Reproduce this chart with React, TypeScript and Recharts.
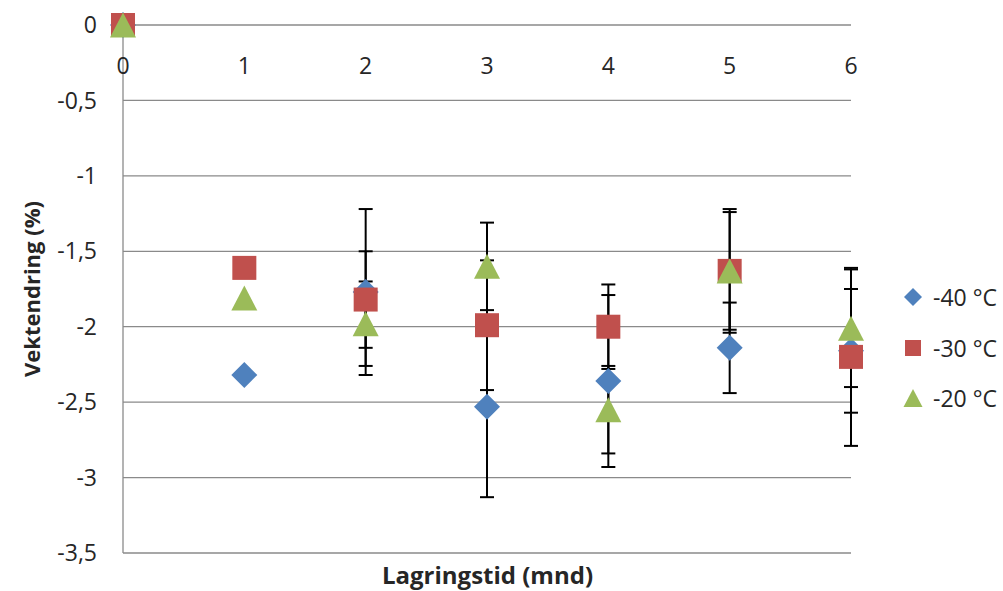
import React from "react";
import {
  CartesianGrid,
  ErrorBar,
  Scatter,
  ScatterChart,
  XAxis,
  YAxis,
} from "recharts";

const months = [0, 1, 2, 3, 4, 5, 6];
const minus40 = [0, -2.32, -1.77, -2.53, -2.36, -2.14, -2.16];
const minus40Err = [0, 0, 0.55, 0.6, 0.57, 0.3, 0.41];
const minus30 = [0, -1.61, -1.82, -1.99, -2.0, -1.63, -2.2];
const minus30Err = [0, 0, 0.32, 0.43, 0.28, 0.39, 0.59];
const minus20 = [0, -1.81, -1.98, -1.6, -2.55, -1.63, -2.01];
const minus20Err = [0, 0, 0.28, 0.29, 0.29, 0.41, 0.39];
const yTicks = [0, -0.5, -1, -1.5, -2, -2.5, -3, -3.5];

const seriesNames = ["-40 °C", "-30 °C", "-20 °C"];
const colors = ["#4F81BD", "#C0504D", "#9BBB59"];

const font = "'Open Sans', sans-serif";
const textColor = "#262626";
const gridColor = "#8a8a8a";

const toPoints = (vals: number[], errs: number[]) =>
  months.map((m, i) => ({ x: m, y: vals[i], e: errs[i] }));

const data40 = toPoints(minus40, minus40Err);
const data30 = toPoints(minus30, minus30Err);
const data20 = toPoints(minus20, minus20Err);

// marker shapes like Excel's (rotated square, square, triangle)
const diamond = (r: number, fill: string) => (props: any) => {
  const { cx, cy } = props;
  return (
    <polygon
      points={`${cx},${cy - r} ${cx + r},${cy} ${cx},${cy + r} ${cx - r},${cy}`}
      fill={fill}
    />
  );
};
const square = (r: number, fill: string) => (props: any) => {
  const { cx, cy } = props;
  return <rect x={cx - r} y={cy - r} width={r * 2} height={r * 2} fill={fill} />;
};
const triangle = (r: number, fill: string) => (props: any) => {
  const { cx, cy } = props;
  return (
    <polygon
      points={`${cx},${cy - r} ${cx + r + 0.5},${cy + r} ${cx - r - 0.5},${cy + r}`}
      fill={fill}
    />
  );
};

// x tick labels sit just below the 0 gridline, as in the original
const renderXTick = (props: any) => {
  const { x, y, payload } = props;
  return (
    <text
      key={`xt-${payload.value}`}
      x={x}
      y={y + 49}
      textAnchor="middle"
      fill={textColor}
      fontSize={23}
      fontFamily={font}
    >
      {payload.value}
    </text>
  );
};

const YTitle = (props: any) => {
  const { viewBox } = props;
  const cy = viewBox.y + viewBox.height / 2;
  return (
    <text
      x={40}
      y={cy}
      transform={`rotate(-90, 40, ${cy})`}
      textAnchor="middle"
      fill={textColor}
      fontSize={22}
      fontWeight="bold"
      fontFamily={font}
    >
      Vektendring (%)
    </text>
  );
};

const legendMarkers = [diamond(9, colors[0]), square(8, colors[1]), triangle(9, colors[2])];

export default function App() {
  return (
    <div style={{ position: "absolute", left: 0, top: 0, width: 1003, height: 591 }}>
      <ScatterChart
        width={1003}
        height={591}
        margin={{ top: 24, right: 152, bottom: 38, left: 0 }}
      >
        <CartesianGrid vertical={false} stroke={gridColor} strokeWidth={1.3} />
        <XAxis
          type="number"
          dataKey="x"
          orientation="top"
          domain={[0, 6]}
          ticks={months}
          height={1}
          axisLine={false}
          tickLine={false}
          tickSize={0}
          tickMargin={0}
          tick={renderXTick}
        />
        <YAxis
          type="number"
          dataKey="y"
          domain={[-3.5, 0]}
          ticks={yTicks}
          width={123}
          axisLine={{ stroke: gridColor, strokeWidth: 1.3 }}
          tickLine={false}
          tickSize={0}
          tickMargin={26}
          tickFormatter={(v: number) => String(v).replace(".", ",")}
          tick={{ fill: textColor, fontSize: 23, fontFamily: font }}
          label={<YTitle />}
        />
        <Scatter
          name={seriesNames[0]}
          data={data40}
          fill={colors[0]}
          shape={diamond(13, colors[0])}
          isAnimationActive={false}
        >
          <ErrorBar dataKey="e" direction="y" width={7} stroke="#000" strokeWidth={2} />
        </Scatter>
        <Scatter
          name={seriesNames[1]}
          data={data30}
          fill={colors[1]}
          shape={square(12, colors[1])}
          isAnimationActive={false}
        >
          <ErrorBar dataKey="e" direction="y" width={7} stroke="#000" strokeWidth={2} />
        </Scatter>
        <Scatter
          name={seriesNames[2]}
          data={data20}
          fill={colors[2]}
          shape={triangle(12.5, colors[2])}
          isAnimationActive={false}
        >
          <ErrorBar dataKey="e" direction="y" width={7} stroke="#000" strokeWidth={2} />
        </Scatter>
      </ScatterChart>

      <div
        style={{
          position: "absolute",
          left: 0,
          width: 975,
          top: 558,
          textAlign: "center",
          fontFamily: font,
          fontWeight: "bold",
          fontSize: 24,
          color: textColor,
        }}
      >
        Lagringstid (mnd)
      </div>

      <div style={{ position: "absolute", left: 902, top: 272 }}>
        {seriesNames.map((name, i) => (
          <div
            key={name}
            style={{ display: "flex", alignItems: "center", height: 50.5 }}
          >
            <svg width={22} height={22} style={{ marginRight: 9 }}>
              {legendMarkers[i]({ cx: 11, cy: 11 })}
            </svg>
            <span style={{ fontFamily: font, fontSize: 23, color: textColor, whiteSpace: "nowrap" }}>
              {name}
            </span>
          </div>
        ))}
      </div>
    </div>
  );
}
